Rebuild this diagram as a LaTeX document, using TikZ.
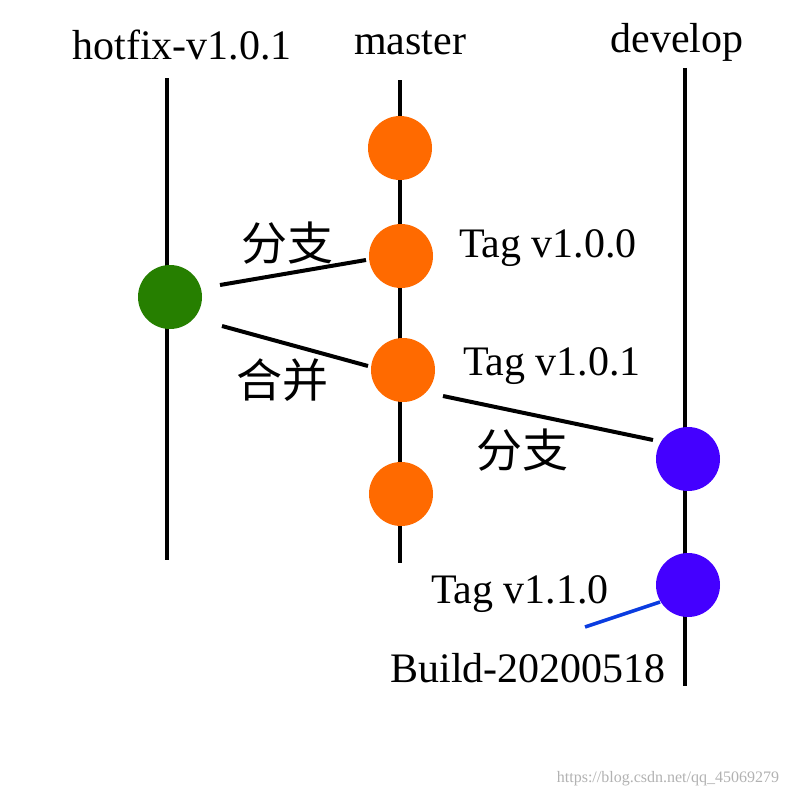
\documentclass[tikz,border=0pt]{standalone}
\usepackage{fontspec}
\setmainfont{Liberation Serif}
\newfontfamily\cjk{Noto Sans CJK SC}
\definecolor{og}{HTML}{FF6A00}
\definecolor{gr}{HTML}{267F00}
\definecolor{bl}{HTML}{4400FF}
\definecolor{ln}{HTML}{0A3CE0}
\begin{document}
\begin{tikzpicture}[x=1pt,y=-1pt,
  br/.style={line width=4pt,black},
  dot/.style={circle,minimum size=64pt,inner sep=0pt},
  lab/.style={font=\fontsize{42}{44}\selectfont},
  zh/.style={font=\cjk\fontsize{46}{48}\selectfont}]
\useasboundingbox[fill=white] (0,0) rectangle (800,800);
\coordinate (ht) at (167,78); \coordinate (hb) at (167,560);
\coordinate (mt) at (400,80); \coordinate (mb) at (400,563);
\coordinate (dt) at (685,68); \coordinate (db) at (685,686);
\draw[br] (ht)--(hb); \draw[br] (mt)--(mb); \draw[br] (dt)--(db);
\node[dot,fill=og] (m1) at (400,148) {};
\node[dot,fill=og] (m2) at (401,256) {};
\node[dot,fill=og] (m3) at (403,370) {};
\node[dot,fill=og] (m4) at (401,494) {};
\node[dot,fill=gr] (h1) at (170,297) {};
\node[dot,fill=bl] (d1) at (688,459) {};
\node[dot,fill=bl] (d2) at (688,585) {};
\coordinate (a1) at (220,285); \coordinate (a2) at (366,260);
\coordinate (b1) at (222,326); \coordinate (b2) at (368,366);
\coordinate (c1) at (443,396); \coordinate (c2) at (653,440);
\coordinate (e1) at (585,627); \coordinate (e2) at (660,602);
\draw[br] (a1)--(a2); \draw[br] (b1)--(b2); \draw[br] (c1)--(c2);
\draw[line width=3.5pt,ln] (e1)--(e2);
\node[lab] (t1) at (182,45) {hotfix-v1.0.1};
\node[lab] (t2) at (410,43) {master};
\node[lab] (t3) at (677,42) {develop};
\node[lab] (g1) at (548,248) {Tag v1.0.0};
\node[lab] (g2) at (552,366) {Tag v1.0.1};
\node[lab] (g3) at (520,594) {Tag v1.1.0};
\node[lab] (g4) at (528,668) {Build-20200518};
\node[zh] (z1) at (287,243) {分支};
\node[zh] (z2) at (282,380) {合并};
\node[zh] (z3) at (522,450) {分支};
\node[font=\fontsize{16}{18}\selectfont,text=gray!60] (w) at (668,779) {https://blog.csdn.net/qq\_45069279};
\end{tikzpicture}
\end{document}
